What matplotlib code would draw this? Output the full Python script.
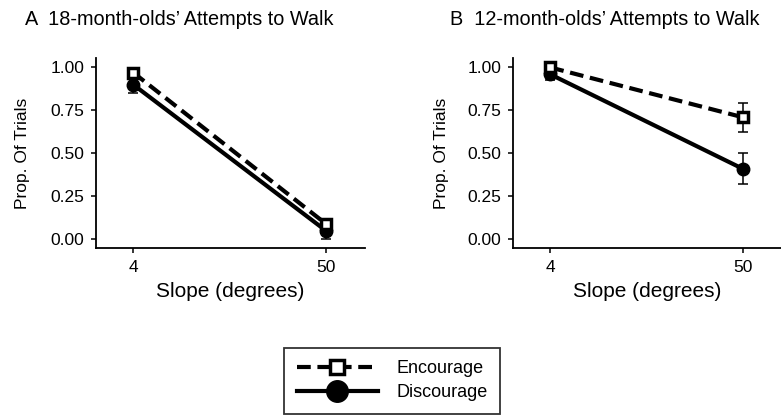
import matplotlib
matplotlib.use("Agg")
import matplotlib.pyplot as plt
from matplotlib.lines import Line2D

plt.rcParams['font.family'] = ['Liberation Sans', 'DejaVu Sans']

# ---- data ----
slopes = [4, 50]
slope_ticks = [4, 50]
y_ticks = [0.00, 0.25, 0.50, 0.75, 1.00]
y_ticklabels = ["0.00", "0.25", "0.50", "0.75", "1.00"]

a_encourage = [0.97, 0.09]
a_encourage_se = [0.02, 0.03]
a_discourage = [0.90, 0.05]
a_discourage_se = [0.05, 0.05]

b_encourage = [1.00, 0.71]
b_encourage_se = [0.005, 0.085]
b_discourage = [0.96, 0.41]
b_discourage_se = [0.035, 0.09]

titles = ["A  18-month-olds\u2019 Attempts to Walk", "B  12-month-olds\u2019 Attempts to Walk"]
xlabel = "Slope (degrees)"
ylabel = "Prop. Of Trials"
legend_labels = ["Encourage", "Discourage"]

W, H = 781, 415
fig = plt.figure(figsize=(W / 100, H / 100), dpi=100)

dash = (0, (3.3, 1.6))
lw = 3.0

def panel(left_px, enc, enc_se, dis, dis_se, ylab_x):
    ax = fig.add_axes([left_px / W, 167 / H, 269 / W, 190 / H])
    # discourage
    ax.errorbar(slopes, dis, yerr=dis_se, fmt='none', ecolor='black',
                elinewidth=1.1, capsize=3.6, capthick=1.1, zorder=2)
    ax.plot(slopes, dis, color='black', lw=lw, ls='-', solid_capstyle='butt',
            marker='o', ms=9, mfc='black', mec='black', zorder=3)
    # encourage
    ax.errorbar(slopes, enc, yerr=enc_se, fmt='none', ecolor='black',
                elinewidth=1.1, capsize=3.6, capthick=1.1, zorder=4)
    ax.plot(slopes, enc, color='black', lw=lw, ls=dash, dash_capstyle='butt',
            marker='s', ms=7.2, mfc='white', mec='black', mew=2.5, zorder=5)
    ax.set_xlim(-4.9, 59.3)
    ax.set_ylim(-0.05, 1.055)
    ax.set_xticks(slope_ticks)
    ax.set_xticklabels([str(s) for s in slope_ticks])
    ax.set_yticks(y_ticks)
    ax.set_yticklabels(y_ticklabels)
    for s in ['top', 'right']:
        ax.spines[s].set_visible(False)
    for s in ['left', 'bottom']:
        ax.spines[s].set_linewidth(1.3)
        ax.spines[s].set_color('black')
    ax.tick_params(axis='both', direction='out', length=3.6, width=1.1,
                   colors='black', labelsize=12.5)
    ax.tick_params(axis='y', pad=5.0)
    ax.tick_params(axis='x', pad=5)
    ax.set_xlabel(xlabel, fontsize=15)
    ax.set_ylabel(ylabel, fontsize=12.5)
    ax.xaxis.set_label_coords(0.5, -0.18)
    ax.yaxis.set_label_coords(ylab_x, 0.5)
    ax.patch.set_alpha(0)
    return ax

panel(96, a_encourage, a_encourage_se, a_discourage, a_discourage_se, -0.245)
panel(513, b_encourage, b_encourage_se, b_discourage, b_discourage_se, -0.238)

fig.text(25 / W, (H - 25) / H, titles[0], fontsize=14.3, ha='left', va='baseline')
fig.text(450 / W, (H - 25) / H, titles[1], fontsize=14.3, ha='left', va='baseline')

handles = [
    Line2D([], [], color='black', lw=lw, ls=dash, marker='s', ms=10,
           mfc='white', mec='black', mew=2.5),
    Line2D([], [], color='black', lw=lw, ls='-', marker='o', ms=15.5,
           mfc='black', mec='black'),
]
leg = fig.legend(handles, legend_labels, loc='lower center',
                 bbox_to_anchor=(392 / W, 1 / H), fontsize=13, frameon=True,
                 fancybox=False, edgecolor='black', handlelength=4.5,
                 handletextpad=1.0, borderpad=0.7, labelspacing=0.4,
                 borderaxespad=0)
leg.get_frame().set_linewidth(1.3)

fig.savefig("out.png", dpi=100)
